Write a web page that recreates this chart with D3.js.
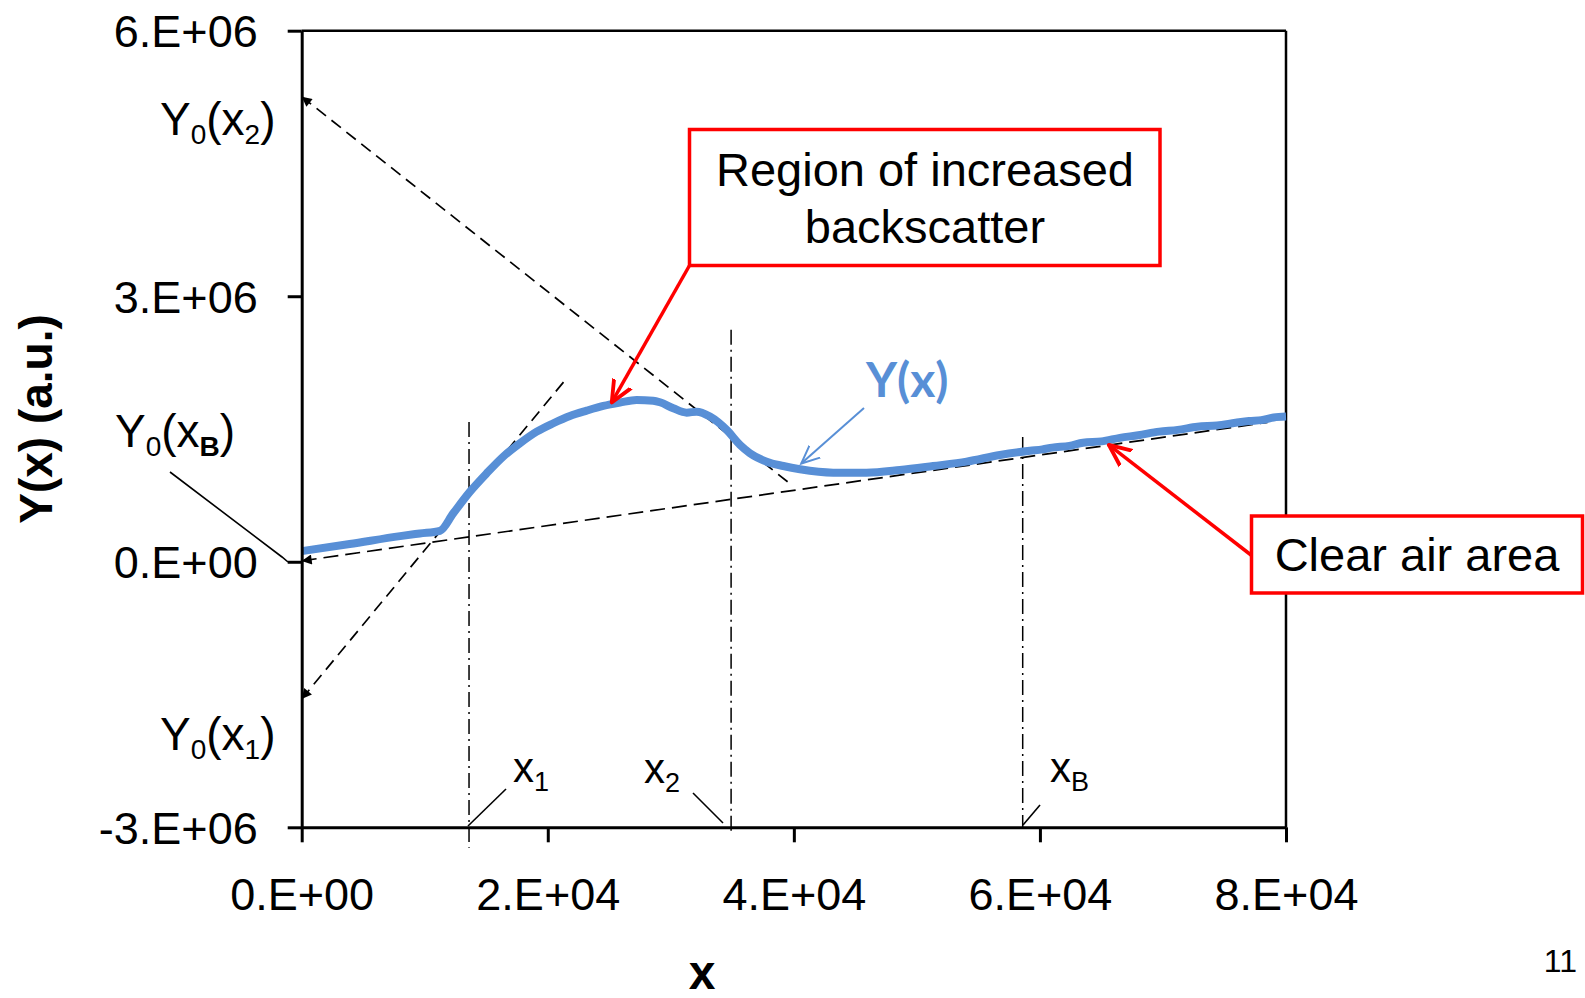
<!DOCTYPE html>
<html>
<head>
<meta charset="utf-8">
<script src="https://cdn.jsdelivr.net/npm/d3@7"></script>
<style>
  body { margin: 0; background: #fff; }
  svg { display: block; font-family: "Liberation Sans", Arial, sans-serif; }
</style>
</head>
<body>
<div id="chart"></div>
<script>
// axis ticks
const xTicks = [0, 2e4, 4e4, 6e4, 8e4];
const xTickLabels = ["0.E+00", "2.E+04", "4.E+04", "6.E+04", "8.E+04"];
const yTicks = [-3e6, 0, 3e6, 6e6];
const yTickLabels = ["-3.E+06", "0.E+00", "3.E+06", "6.E+06"];

const signalX = [0, 3900, 8000, 9600, 11240, 12320, 13680, 15040, 16380, 17740, 19100, 20450, 21800, 23160, 24510, 25870, 27220, 28570, 29120, 30200, 31290, 32100, 33180, 34540, 35620, 36430, 37790, 39140, 40500, 43200, 45900, 48620, 51320, 54040, 56750, 59190, 60200, 61000, 62400, 63500, 65000, 66500, 68000, 69700, 71200, 72800, 74400, 75900, 77000, 78000, 79000, 80000];
const signalY = [0.12e6, 0.20e6, 0.29e6, 0.32e6, 0.35e6, 0.548e6, 0.792e6, 1.0e6, 1.188e6, 1.339e6, 1.47e6, 1.565e6, 1.647e6, 1.707e6, 1.76e6, 1.798e6, 1.828e6, 1.82e6, 1.802e6, 1.734e6, 1.685e6, 1.696e6, 1.64e6, 1.489e6, 1.32e6, 1.226e6, 1.131e6, 1.082e6, 1.045e6, 1.007e6, 1.007e6, 1.037e6, 1.082e6, 1.131e6, 1.207e6, 1.255e6, 1.27e6, 1.29e6, 1.31e6, 1.345e6, 1.36e6, 1.40e6, 1.43e6, 1.47e6, 1.49e6, 1.525e6, 1.54e6, 1.57e6, 1.59e6, 1.60e6, 1.63e6, 1.64e6];

// dashed tangent lines [x, y] (arrow at first point)
const tangentX1 = [[0, -1.55e6], [2.14e4, 2.05e6]];
const tangentX2 = [[0, 5.255e6], [3.98e4, 0.87e6]];
const tangentXB = [[0, 0.01e6], [7.85e4, 1.575e6]];

// vertical marker lines
const markerNames = ["x1", "x2", "xB"];
const markerX = [1.36e4, 3.49e4, 5.86e4];
const markerTop = [1.58e6, 2.62e6, 1.41e6];
const markerBottom = [-3.23e6, -3.05e6, -3.0e6];

const size = { x: 1585, y: 998 };
const plot = { left: 301.7, right: 1286, top: 30.7, bottom: 827.3 };

const xScale = d3.scaleLinear().domain([0, 8e4]).range([plot.left, plot.right]);
const yScale = d3.scaleLinear().domain([-3e6, 6e6]).range([plot.bottom, plot.top]);

const svg = d3.select("#chart")
  .append("svg")
  .attr("width", size.x)
  .attr("height", size.y)
  .attr("viewBox", [0, 0, size.x, size.y]);

const defs = svg.append("defs");
defs.append("marker")
  .attr("id", "blackHead")
  .attr("viewBox", "0 0 10 10")
  .attr("refX", 10).attr("refY", 5)
  .attr("markerWidth", 12).attr("markerHeight", 10)
  .attr("markerUnits", "userSpaceOnUse")
  .attr("orient", "auto-start-reverse")
  .append("path").attr("d", "M0,0 L10,5 L0,10 Z").attr("fill", "#000");
defs.append("marker")
  .attr("id", "redHead")
  .attr("viewBox", "0 0 10 10")
  .attr("refX", 9).attr("refY", 5)
  .attr("markerWidth", 24).attr("markerHeight", 24)
  .attr("markerUnits", "userSpaceOnUse")
  .attr("orient", "auto")
  .append("path").attr("d", "M0,1 L9,5 L0,9")
  .attr("fill", "none").attr("stroke", "#ff0000").attr("stroke-width", 1.6)
  .attr("stroke-linecap", "round").attr("stroke-linejoin", "round");
defs.append("marker")
  .attr("id", "blueHead")
  .attr("viewBox", "0 0 10 10")
  .attr("refX", 9).attr("refY", 5)
  .attr("markerWidth", 20).attr("markerHeight", 20)
  .attr("markerUnits", "userSpaceOnUse")
  .attr("orient", "auto")
  .append("path").attr("d", "M0,1 L9,5 L0,9")
  .attr("fill", "none").attr("stroke", "#588fd6").attr("stroke-width", 1)
  .attr("stroke-linecap", "round");

// frame (top / right)
svg.append("line")
  .attr("x1", plot.left).attr("x2", plot.right)
  .attr("y1", plot.top).attr("y2", plot.top)
  .attr("stroke", "#000").attr("stroke-width", 2.5);
svg.append("line")
  .attr("x1", plot.right).attr("x2", plot.right)
  .attr("y1", plot.top).attr("y2", plot.bottom)
  .attr("stroke", "#000").attr("stroke-width", 2.5);

// vertical dash-dot lines
svg.append("g")
  .selectAll("line")
  .data(markerX)
  .enter()
  .append("line")
  .attr("x1", d => xScale(d)).attr("x2", d => xScale(d))
  .attr("y1", (d, i) => yScale(markerTop[i]))
  .attr("y2", (d, i) => yScale(markerBottom[i]))
  .attr("stroke", "#000").attr("stroke-width", 1.5)
  .attr("stroke-dasharray", "15,5,2,5");

// tangent lines
const tangentLine = d3.line().x(d => xScale(d[0])).y(d => yScale(d[1]));
[[tangentX1, "12,7"], [tangentX2, "12,7"], [tangentXB, "15,7"]].forEach(([pts, dash]) => {
  svg.append("path")
    .attr("d", tangentLine(pts))
    .attr("fill", "none")
    .attr("stroke", "#000")
    .attr("stroke-width", 1.7)
    .attr("stroke-dasharray", dash)
    .attr("marker-start", "url(#blackHead)");
});

// signal curve
const signal = signalX.map((x, i) => [x, signalY[i]]);
svg.append("path")
  .attr("d", d3.line().x(d => xScale(d[0])).y(d => yScale(d[1])).curve(d3.curveMonotoneX)(signal))
  .attr("fill", "none")
  .attr("stroke", "#588fd6")
  .attr("stroke-width", 8)
  .attr("stroke-linecap", "butt")
  .attr("stroke-linejoin", "round");

// axes
const yAxis = svg.append("g")
  .attr("transform", `translate(${plot.left},0)`)
  .call(d3.axisLeft(yScale).tickValues(yTicks).tickFormat((d, i) => yTickLabels[i])
    .tickSizeInner(14).tickSizeOuter(0).tickPadding(30));
yAxis.selectAll("text").attr("dy", "0.36em");

const xAxis = svg.append("g")
  .attr("transform", `translate(0,${plot.bottom})`)
  .call(d3.axisBottom(xScale).tickValues(xTicks).tickFormat((d, i) => xTickLabels[i])
    .tickSizeInner(15).tickSizeOuter(0).tickPadding(36));

[yAxis, xAxis].forEach(g => {
  g.attr("font-family", "'Liberation Sans', Arial, sans-serif").attr("font-size", 45);
  g.select(".domain").attr("stroke", "#000").attr("stroke-width", 3);
  g.selectAll(".tick line").attr("stroke", "#000").attr("stroke-width", 3);
  g.selectAll(".tick text").attr("fill", "#000");
});

// axis titles
svg.append("text")
  .text("Y(x) (a.u.)")
  .attr("transform", "translate(52,419) rotate(-90)")
  .attr("text-anchor", "middle")
  .attr("font-size", 46)
  .attr("font-weight", "bold");
svg.append("text")
  .text("x")
  .attr("x", 702).attr("y", 989)
  .attr("text-anchor", "middle")
  .attr("font-size", 48)
  .attr("font-weight", "bold");

// labels with subscripts
const subLabel = (x, y, parts, big, small) => {
  const t = svg.append("text").attr("x", x).attr("y", y).attr("font-size", big);
  let down = false;
  parts.forEach(([s, isSub, bold]) => {
    const span = t.append("tspan").text(s);
    if (isSub && !down) { span.attr("dy", small * 0.33); down = true; }
    if (!isSub && down) { span.attr("dy", -small * 0.33); down = false; }
    if (isSub) span.attr("font-size", small);
    if (bold) span.attr("font-weight", "bold");
  });
  return t;
};
subLabel(160, 135, [["Y"], ["0", true], ["(x"], ["2", true], [")"]], 46, 28);
subLabel(115, 447, [["Y"], ["0", true], ["(x"], ["B", true, true], [")"]], 46, 28);
subLabel(160, 750, [["Y"], ["0", true], ["(x"], ["1", true], [")"]], 46, 28);
subLabel(513, 782, [["x"], ["1", true]], 42, 27);
subLabel(644, 783, [["x"], ["2", true]], 42, 27);
subLabel(1050, 782, [["x"], ["B", true]], 42, 27);

// thin leader lines
const leaders = [
  [[170, 472], [282, 557], [288, 562]],
  [[506, 789], [468, 826]],
  [[693, 793], [723, 823]],
  [[1040, 805], [1023, 825]]
];
leaders.forEach(pts => {
  svg.append("path")
    .attr("d", d3.line()(pts))
    .attr("fill", "none")
    .attr("stroke", "#000")
    .attr("stroke-width", 1.6);
});

// red callouts
svg.append("path")
  .attr("d", d3.line()([[689.5, 265.5], [xScale(2.52e4), yScale(1.80e6)]]))
  .attr("stroke", "#ff0000").attr("stroke-width", 3.5)
  .attr("marker-end", "url(#redHead)");
svg.append("rect")
  .attr("x", 689.5).attr("y", 129.5).attr("width", 470.5).attr("height", 136)
  .attr("fill", "#fff").attr("stroke", "#ff0000").attr("stroke-width", 3.5);
svg.append("text")
  .attr("x", 925).attr("y", 186)
  .attr("text-anchor", "middle").attr("font-size", 47)
  .text("Region of increased");
svg.append("text")
  .attr("x", 925).attr("y", 243)
  .attr("text-anchor", "middle").attr("font-size", 47)
  .text("backscatter");

svg.append("path")
  .attr("d", d3.line()([[1251, 555], [xScale(6.56e4), yScale(1.32e6)]]))
  .attr("stroke", "#ff0000").attr("stroke-width", 3.5)
  .attr("marker-end", "url(#redHead)");
svg.append("rect")
  .attr("x", 1251.5).attr("y", 516).attr("width", 331).attr("height", 77)
  .attr("fill", "#fff").attr("stroke", "#ff0000").attr("stroke-width", 3.5);
svg.append("text")
  .attr("x", 1417).attr("y", 571)
  .attr("text-anchor", "middle").attr("font-size", 47)
  .text("Clear air area");

// blue Y(x) label
svg.append("path")
  .attr("d", d3.line()([[864, 408], [xScale(4.06e4), yScale(1.11e6)]]))
  .attr("stroke", "#588fd6").attr("stroke-width", 2)
  .attr("marker-end", "url(#blueHead)");
svg.append("text")
  .attr("x", 866).attr("y", 397)
  .attr("font-family", "Lato, 'Open Sans', sans-serif")
  .attr("font-weight", "bold")
  .attr("font-size", 48)
  .attr("fill", "#588fd6")
  .text("Y(x)");

// page number
svg.append("text")
  .attr("x", 1577).attr("y", 972)
  .attr("text-anchor", "end").attr("font-size", 32)
  .text("11");
</script>
</body>
</html>
